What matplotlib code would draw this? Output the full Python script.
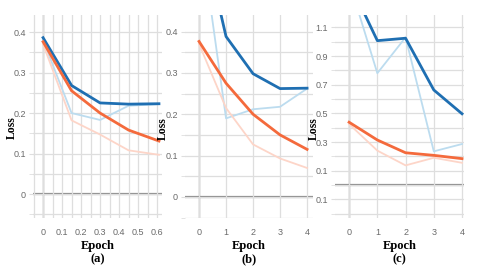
import numpy as np
import matplotlib
matplotlib.use('Agg')
from matplotlib import pyplot as plt
import matplotlib.ticker as plticker

# panel (a)
epoch_a = [0, 0.15, 0.3, 0.45, 0.61]
a_dark_blue = [0.386, 0.268, 0.225, 0.222, 0.223]
a_light_blue = [0.380, 0.200, 0.183, 0.218, 0.222]
a_dark_orange = [0.376, 0.255, 0.200, 0.158, 0.131]
a_light_orange = [0.370, 0.182, 0.147, 0.108, 0.097]

# panel (b)
epoch_b = [0, 1, 2, 3, 4]
b_dark_blue = [0.67, 0.388, 0.298, 0.262, 0.263]
b_light_blue = [0.66, 0.190, 0.212, 0.218, 0.262]
b_dark_orange = [0.376, 0.275, 0.200, 0.150, 0.115]
b_light_orange = [0.370, 0.215, 0.127, 0.093, 0.070]

# panel (c)
epoch_c = [0, 1, 2, 3, 4]
c_dark_blue = [1.42, 1.007, 1.024, 0.663, 0.497]
c_light_blue = [1.42, 0.780, 1.030, 0.235, 0.286]
c_dark_orange = [0.438, 0.314, 0.225, 0.207, 0.184]
c_light_orange = [0.425, 0.240, 0.137, 0.190, 0.155]

DARK_BLUE = '#1f6fb2'
LIGHT_BLUE = '#bcdcef'
DARK_ORANGE = '#f46a3c'
LIGHT_ORANGE = '#fdd5c8'
GRID = '#dedede'
TICK_COLOR = '#6a6a6a'

tick_font = ['Liberation Sans', 'DejaVu Sans']
label_font = ['Liberation Serif', 'DejaVu Serif']
TICK_SIZE = 6.5

W, H = 480, 273
fig = plt.figure(figsize=(W / 100, H / 100), dpi=100)


def px_axes(left, right, top, bottom):
    return fig.add_axes([left / W, 1 - bottom / H, (right - left) / W, (bottom - top) / H])


def style_labels(ax):
    for lab in ax.get_xticklabels() + ax.get_yticklabels():
        lab.set_family(tick_font)
        lab.set_fontsize(TICK_SIZE)
        lab.set_color(TICK_COLOR)


def style_panel(ax, xlim, ylim, xmaj, xmin, ymaj, ymin, tag, ylabel_x, ylabel_y):
    ax.set_xlim(*xlim)
    ax.set_ylim(*ylim)
    for s in ax.spines.values():
        s.set_visible(False)
    ax.xaxis.set_major_locator(plticker.MultipleLocator(xmaj))
    ax.yaxis.set_major_locator(plticker.MultipleLocator(ymaj))
    if xmin:
        ax.xaxis.set_minor_locator(plticker.MultipleLocator(xmin))
    if ymin:
        ax.yaxis.set_minor_locator(plticker.MultipleLocator(ymin))
    ax.grid(which='both', axis='both', color=GRID, linewidth=0.9, zorder=0)
    ax.tick_params(which='both', length=0, pad=7)
    ax.tick_params(axis='y', which='both', length=3, color=GRID, pad=2)
    ax.axhline(0, color='#8c8c8c', linewidth=1.6, zorder=1)
    ax.axvline(0, color='#9a9a9a', linewidth=1.0, zorder=1)
    style_labels(ax)
    ax.text(0.5, -0.14, 'Epoch', transform=ax.transAxes, ha='center', va='center',
            family=label_font, fontweight='bold', fontsize=9)
    ax.text(0.5, -0.205, tag, transform=ax.transAxes, ha='center', va='center',
            family=label_font, fontweight='bold', fontsize=9)
    fig.text(ylabel_x / W, 1 - ylabel_y / H, 'Loss', rotation=90, ha='center', va='center',
             family=label_font, fontweight='bold', fontsize=8.5)


def draw_lines(ax, x, lb, db, lo, do):
    ax.plot(x, lb, color=LIGHT_BLUE, linewidth=1.3, zorder=2)
    ax.plot(x, lo, color=LIGHT_ORANGE, linewidth=1.3, zorder=2)
    ax.plot(x, db, color=DARK_BLUE, linewidth=2.0, zorder=3)
    ax.plot(x, do, color=DARK_ORANGE, linewidth=2.0, zorder=3)


def zero_fmt(v, p):
    return '0' if abs(v) < 1e-9 else f'{v:.1f}'


ax_a = px_axes(33, 162, 15, 218)
draw_lines(ax_a, epoch_a, a_light_blue, a_dark_blue, a_light_orange, a_dark_orange)
ax_a.xaxis.set_major_formatter(plticker.FuncFormatter(zero_fmt))
ax_a.yaxis.set_major_formatter(plticker.FuncFormatter(zero_fmt))
style_panel(ax_a, (-0.053, 0.626), (-0.059, 0.442), 0.1, 0.05, 0.1, 0.05, '(a)', 12, 128)

ax_b = px_axes(185, 313, 15, 218)
draw_lines(ax_b, epoch_b, b_light_blue, b_dark_blue, b_light_orange, b_dark_orange)
ax_b.yaxis.set_major_formatter(plticker.FuncFormatter(zero_fmt))
style_panel(ax_b, (-0.52, 4.22), (-0.051, 0.44), 1, None, 0.1, 0.05, '(b)', 163, 129)

ax_c = px_axes(335, 464, 15, 218)
draw_lines(ax_c, epoch_c, c_light_blue, c_dark_blue, c_light_orange, c_dark_orange)
style_panel(ax_c, (-0.5, 4.07), (-0.23, 1.186), 1, None, 0.2, 0.1, '(c)', 314, 129)
c_yticks = [-0.1, 0.1, 0.3, 0.5, 0.7, 0.9, 1.1]
ax_c.set_yticks(c_yticks)
ax_c.set_yticklabels([f'{abs(v):.1f}' for v in c_yticks])
ax_c.yaxis.set_minor_locator(plticker.MultipleLocator(0.1))
style_labels(ax_c)

fig.savefig('out.png', dpi=100)
